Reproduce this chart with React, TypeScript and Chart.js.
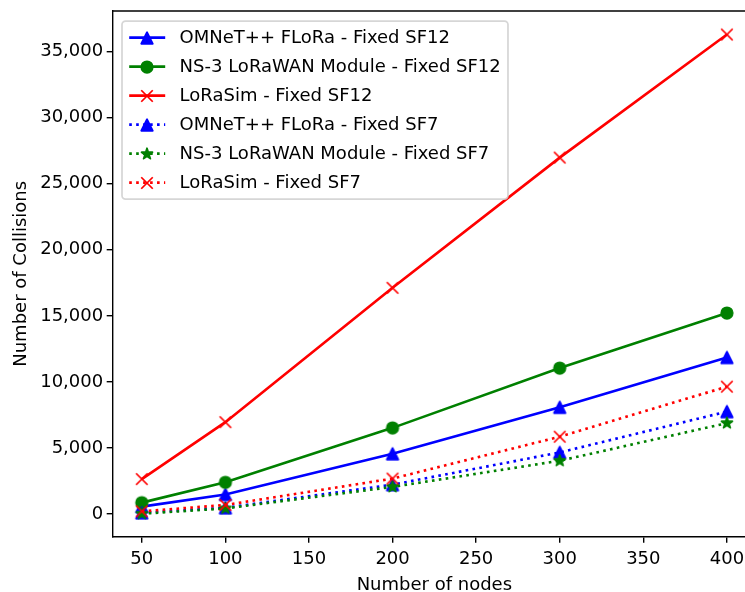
import React, { useEffect, useRef } from 'react';
import { Chart, registerables } from 'chart.js';

Chart.register(...registerables);

// Network sizes simulated
const nodeCounts = [50, 100, 200, 300, 400];

// Collision counts per simulator / spreading factor
const omnetSF12 = [560, 1480, 4560, 8080, 11850];
const ns3SF12 = [860, 2400, 6520, 11050, 15220];
const loraSimSF12 = [2640, 6950, 17120, 26980, 36300];
const omnetSF7 = [90, 470, 2220, 4660, 7750];
const ns3SF7 = [20, 420, 2050, 4030, 6880];
const loraSimSF7 = [200, 680, 2680, 5850, 9640];

const seriesLabels = [
  'OMNeT++ FLoRa - Fixed SF12',
  'NS-3 LoRaWAN Module - Fixed SF12',
  'LoRaSim - Fixed SF12',
  'OMNeT++ FLoRa - Fixed SF7',
  'NS-3 LoRaWAN Module - Fixed SF7',
  'LoRaSim - Fixed SF7',
];

const xTicks = [50, 100, 150, 200, 250, 300, 350, 400];
const yTicks = [0, 5000, 10000, 15000, 20000, 25000, 30000, 35000];

const FONT = '"DejaVu Sans", sans-serif';
const FS = 18;
const PT = 1.75; // px per point
const LINE_W = 1.5 * PT;
const DOTS = [1 * LINE_W, 1.65 * LINE_W];
const MARKER = 11.5;

// visible page area, and the (larger) drawing surface that runs past it
const VIEW_W = 745;
const VIEW_H = 592;
const CANVAS_W = 770;
const CANVAS_H = 600;

type MarkerKind = 'triangle' | 'circle' | 'x' | 'star';

function makeMarker(kind: MarkerKind, color: string): HTMLCanvasElement {
  const c = document.createElement('canvas');
  c.width = 20;
  c.height = 20;
  const ctx = c.getContext('2d')!;
  ctx.translate(10, 10);
  const h = MARKER / 2;
  ctx.fillStyle = color;
  ctx.strokeStyle = color;
  ctx.lineWidth = PT;
  ctx.lineJoin = 'round';
  ctx.beginPath();
  if (kind === 'triangle') {
    ctx.moveTo(0, -h);
    ctx.lineTo(-h, h);
    ctx.lineTo(h, h);
    ctx.closePath();
    ctx.fill();
    ctx.stroke();
  } else if (kind === 'circle') {
    ctx.arc(0, 0, h, 0, Math.PI * 2);
    ctx.fill();
    ctx.stroke();
  } else if (kind === 'x') {
    ctx.lineCap = 'butt';
    ctx.moveTo(-h, -h);
    ctx.lineTo(h, h);
    ctx.moveTo(-h, h);
    ctx.lineTo(h, -h);
    ctx.stroke();
  } else {
    const inner = h * 0.381966;
    for (let i = 0; i < 10; i++) {
      const r = i % 2 === 0 ? h : inner;
      const a = -Math.PI / 2 + (i * Math.PI) / 5;
      const px = r * Math.cos(a);
      const py = r * Math.sin(a);
      if (i === 0) ctx.moveTo(px, py);
      else ctx.lineTo(px, py);
    }
    ctx.closePath();
    ctx.fill();
    ctx.stroke();
  }
  return c;
}

// Top spine of the axes, plus the boxed legend
const framePlugin = {
  id: 'frameAndLegend',
  afterDraw(chart: any) {
    const { ctx, chartArea } = chart;
    ctx.save();
    ctx.strokeStyle = '#000';
    ctx.lineWidth = 0.8 * PT;
    ctx.beginPath();
    ctx.moveTo(chartArea.left, chartArea.top);
    ctx.lineTo(chartArea.right, chartArea.top);
    ctx.stroke();

    // legend
    const pad = 0.4 * FS;
    const rowH = 20.2;
    const gap = 8.8;
    const left = chartArea.left + 9.3;
    const top = chartArea.top + 10;
    const handleLen = 2 * FS;
    const textX = left + pad + handleLen + 0.8 * FS;
    ctx.font = `${FS}px ${FONT}`;
    let maxW = 0;
    chart.data.datasets.forEach((ds: any) => {
      maxW = Math.max(maxW, ctx.measureText(ds.label).width);
    });
    const n = chart.data.datasets.length;
    const w = textX + maxW + pad - left;
    const hgt = n * rowH + (n - 1) * gap + 2 * 6.5;
    const rr = 0.2 * FS;
    ctx.beginPath();
    ctx.roundRect(left, top, w, hgt, rr);
    ctx.fillStyle = 'rgba(255,255,255,0.8)';
    ctx.fill();
    ctx.strokeStyle = 'rgba(204,204,204,0.8)';
    ctx.lineWidth = PT;
    ctx.stroke();

    chart.data.datasets.forEach((ds: any, i: number) => {
      const cy = top + 6.5 + rowH / 2 + i * (rowH + gap);
      const x0 = left + pad;
      ctx.beginPath();
      ctx.setLineDash(ds.borderDash || []);
      ctx.lineCap = 'butt';
      ctx.strokeStyle = ds.borderColor;
      ctx.lineWidth = ds.borderWidth;
      ctx.moveTo(x0, cy);
      ctx.lineTo(x0 + handleLen, cy);
      ctx.stroke();
      ctx.setLineDash([]);
      const img = ds.pointStyle as HTMLCanvasElement;
      ctx.drawImage(img, Math.round(x0 + handleLen / 2 - img.width / 2), Math.round(cy - img.height / 2));
      ctx.fillStyle = '#000';
      ctx.textAlign = 'left';
      ctx.textBaseline = 'middle';
      ctx.fillText(ds.label, textX, cy + 1);
    });
    ctx.restore();
  },
};

export default function App() {
  const canvasRef = useRef<HTMLCanvasElement | null>(null);

  useEffect(() => {
    const canvas = canvasRef.current;
    if (!canvas) return;

    const seriesValues = [omnetSF12, ns3SF12, loraSimSF12, omnetSF7, ns3SF7, loraSimSF7];
    const colors = ['#0000ff', '#008000', '#ff0000', '#0000ff', '#008000', '#ff0000'];
    const markers: MarkerKind[] = ['triangle', 'circle', 'x', 'triangle', 'star', 'x'];

    const datasets = seriesValues.map((vals, i) => ({
      label: seriesLabels[i],
      data: nodeCounts.map((x, j) => ({ x, y: vals[j] })),
      borderColor: colors[i],
      backgroundColor: colors[i],
      borderWidth: LINE_W,
      borderDash: i >= 3 ? DOTS : [],
      borderCapStyle: 'butt' as const,
      pointStyle: makeMarker(markers[i], colors[i]),
      pointRadius: 6,
      pointHoverRadius: 6,
      tension: 0,
      order: 10 - i,
    }));

    const tickFont = { family: FONT, size: FS };

    const chart = new Chart(canvas, {
      type: 'line',
      data: { datasets },
      plugins: [framePlugin],
      options: {
        animation: false,
        responsive: false,
        devicePixelRatio: 1,
        layout: { padding: { top: 11, right: CANVAS_W - 756, left: 0, bottom: 0 } },
        plugins: {
          legend: { display: false },
          tooltip: { enabled: false },
        },
        scales: {
          x: {
            type: 'linear',
            min: 32.6,
            max: 417.4,
            afterBuildTicks: (scale: any) => {
              scale.ticks = xTicks.map((v) => ({ value: v }));
            },
            afterFit: (scale: any) => {
              scale.height = CANVAS_H - 536.7;
              scale.paddingLeft = 0;
              scale.paddingRight = 0;
            },
            ticks: {
              font: tickFont,
              color: '#000',
              padding: 6,
              maxRotation: 0,
              autoSkip: false,
              callback: (v: any) => String(v),
            },
            grid: {
              display: true,
              drawOnChartArea: false,
              drawTicks: true,
              tickLength: 6,
              color: '#000',
              lineWidth: 0.8 * PT,
            },
            border: { display: true, color: '#000', width: 0.8 * PT },
            title: {
              display: true,
              text: 'Number of nodes',
              font: tickFont,
              color: '#000',
              padding: { top: 0, bottom: 4.2 },
            },
          },
          y: {
            type: 'linear',
            min: -1720,
            max: 38080,
            afterBuildTicks: (scale: any) => {
              scale.ticks = yTicks.map((v) => ({ value: v }));
            },
            afterFit: (scale: any) => {
              scale.width = 112.7;
              scale.paddingTop = 0;
              scale.paddingBottom = 0;
            },
            ticks: {
              font: tickFont,
              color: '#000',
              padding: 3.5,
              autoSkip: false,
              callback: (v: any) => Number(v).toLocaleString('en-US'),
            },
            grid: {
              display: true,
              drawOnChartArea: false,
              drawTicks: true,
              tickLength: 6,
              color: '#000',
              lineWidth: 0.8 * PT,
            },
            border: { display: true, color: '#000', width: 0.8 * PT },
            title: {
              display: true,
              text: 'Number of Collisions',
              font: tickFont,
              color: '#000',
              padding: { top: 10.2, bottom: 0 },
            },
          },
        },
      },
    });

    return () => chart.destroy();
  }, []);

  return (
    <div
      style={{
        position: 'fixed',
        left: 0,
        top: 0,
        width: VIEW_W,
        height: VIEW_H,
        overflow: 'hidden',
        background: '#fff',
      }}
    >
      <canvas ref={canvasRef} width={CANVAS_W} height={CANVAS_H} style={{ display: 'block' }} />
    </div>
  );
}
